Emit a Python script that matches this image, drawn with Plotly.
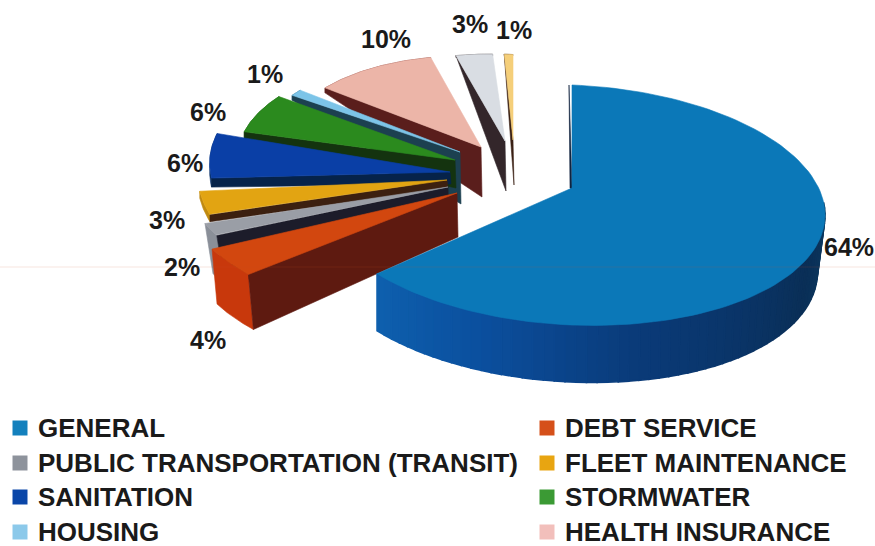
import math
import plotly.graph_objects as go

# Budget shares, clockwise from twelve o'clock
shares = [64, 4, 2, 3, 6, 6, 1, 10, 3, 1]
share_labels = ["64%", "4%", "2%", "3%", "6%", "6%", "1%", "10%", "3%", "1%"]
legend_left = ["GENERAL", "PUBLIC TRANSPORTATION (TRANSIT)", "SANITATION", "HOUSING"]
legend_right = ["DEBT SERVICE", "FLEET MAINTENANCE", "STORMWATER", "HEALTH INSURANCE"]

# Face colours per slice
top_colors = ["#0b78b8", "#d2470f", "#9a9ea6", "#e2a412", "#0a3fa6",
              "#2b8a1e", "#7cc4e8", "#ecb5a8", "#d9dde3", "#f5cf7a"]
radial_colors = ["#10243f", "#5e1a10", "#1c1c2a", "#3c2010", "#06234a",
                 "#14330f", "#1c4050", "#5a1e1c", "#33262a", "#3a2014"]
rim_colors = ["#0b4f9e", "#c8380c", "#8a8f98", "#c08a10", "#08306a",
              "#1a5a14", "#2a6a8a", "#7a2a24", "#33262a", "#3a2014"]
legend_left_colors = ["#1380bd", "#8e939c", "#0a46a8", "#8cc9ea"]
legend_right_colors = ["#d5501a", "#e8a511", "#3b9a34", "#f2bfbb"]

# Exploded layout of each slice: apex, rim scale, rim shift, depth at apex and rim
apex_x = [572, 457, 448, 447, 450, 455, 460, 481, 505, 513]
apex_y = [188, 193, 187, 180, 172, 160, 152, 147, 141, 140]
scale_x = [1, 1.07, 1.01, 0.985, 0.95, 0.86, 0.82, 0.8, 0.78, 0.55]
scale_y = [1, 0.95, 0.82, 1.05, 1.0, 0.9, 0.92, 0.88, 0.84, 0.83]
shift_y = [0, 0, 0, -12, -16, -8, 0, 0, 0, 0]
lower_shift_x = [0, 5, 8, 0, 0, 0, 0, 0, 0, 0]
depth_apex = [6, 44, 40, 8, 12, 28, 52, 50, 50, 45]
depth_rim = [57, 55, 50, 7, 9, 9, 5, 5, 2, 1]

label_x = [849, 208, 182, 167, 185, 208, 265, 386, 470, 514]
label_y = [247, 340, 267, 220, 163, 112, 74, 39, 24, 30]

RADIUS_X, RADIUS_Y, TILT, RIM_DROP = 253, 120, 10, 17


def rim_point(i, deg):
    t = math.radians(deg)
    x = apex_x[i] + scale_x[i] * RADIUS_X * math.sin(t)
    y = apex_y[i] + shift_y[i] + scale_y[i] * (
        -RADIUS_Y * math.cos(t) + TILT * math.sin(t) + RIM_DROP)
    return x, y


def arc(i, a, b, n=40):
    return [rim_point(i, a + (b - a) * k / n) for k in range(n + 1)]


def lower_edge(i, pts):
    # The underside pulls in a little on the right-hand part of the big slice
    out = []
    for x, y in pts:
        squeeze = 1 - 0.03 * max((x - apex_x[i]) / RADIUS_X, 0)
        out.append((apex_x[i] + (x - apex_x[i]) * squeeze + lower_shift_x[i],
                    y + depth_rim[i]))
    return out


def polygon(fig, pts, color, edge=0.6):
    xs = [p[0] for p in pts] + [pts[0][0]]
    ys = [p[1] for p in pts] + [pts[0][1]]
    fig.add_trace(go.Scatter(x=xs, y=ys, mode="lines", fill="toself",
                             fillcolor=color, line=dict(color=color, width=edge),
                             hoverinfo="skip", showlegend=False))


def mix(c1, c2, f):
    a = [int(c1[j:j + 2], 16) for j in (1, 3, 5)]
    b = [int(c2[j:j + 2], 16) for j in (1, 3, 5)]
    return "#" + "".join(f"{round(p + (q - p) * f):02x}" for p, q in zip(a, b))


total = sum(shares)
starts, ends, run = [], [], 0.0
for s in shares:
    starts.append(run)
    run += s * 360 / total
    ends.append(run)

fig = go.Figure()

# Slices are painted far to near, so the big slice goes last
for i in list(range(len(shares) - 1, 0, -1)):
    rim = arc(i, starts[i], ends[i])
    polygon(fig, rim + lower_edge(i, rim)[::-1], rim_colors[i])
    first = rim[0]
    ax, ay = apex_x[i], apex_y[i]
    polygon(fig, [first, (ax, ay), (ax + 1, ay + depth_apex[i]),
                  (first[0] + lower_shift_x[i], first[1] + depth_rim[i])], radial_colors[i])
    polygon(fig, [(ax, ay)] + rim, top_colors[i])

# Big slice: start edge, shaded outer wall, then the top face
ramp = [(0.0, "#0c3a60"), (0.2, "#0a2f57"), (0.55, "#0a3a78"), (0.8, "#0b4f9e"), (1.0, "#0e60ae")]
wall_start, wall_end = 84, ends[0]
strips = 60
for k in range(strips):
    f0, f1 = k / strips, (k + 1) / strips
    seg = arc(0, wall_start + (wall_end - wall_start) * f0,
              wall_start + (wall_end - wall_start) * f1, 3)
    mid = (f0 + f1) / 2
    for (p0, c0), (p1, c1) in zip(ramp, ramp[1:]):
        if p0 <= mid <= p1:
            color = mix(c0, c1, (mid - p0) / (p1 - p0))
            break
    polygon(fig, seg + lower_edge(0, seg)[::-1], color, edge=1.6)

rim0 = arc(0, starts[0], ends[0], 120)
polygon(fig, [(rim0[0][0] - 3, rim0[0][1]), (apex_x[0] - 2, apex_y[0]),
              (apex_x[0] + 3, apex_y[0] + depth_apex[0] - 2), (apex_x[0], apex_y[0] - 2)],
        radial_colors[0])
polygon(fig, [(apex_x[0], apex_y[0])] + rim0, top_colors[0])

# Legend swatches
rows_y = [428, 463, 497, 532]
for col_x, colors in ((20, legend_left_colors), (547, legend_right_colors)):
    fig.add_trace(go.Scatter(x=[col_x] * 4, y=rows_y, mode="markers",
                             marker=dict(symbol="square", size=15, color=colors),
                             hoverinfo="skip", showlegend=False))

LABEL_FONT = dict(family="'Liberation Sans', sans-serif", size=25, color="#1a1a1a")
LEGEND_FONT = dict(family="'Liberation Sans', sans-serif", size=26, color="#1a1a1a")
notes = []
for text, x, y in zip(share_labels, label_x, label_y):
    notes.append(dict(x=x, y=y, text=f"<b>{text}</b>", showarrow=False,
                      xanchor="center", yanchor="middle", font=LABEL_FONT))
for names, col_x in ((legend_left, 36), (legend_right, 563)):
    for name, y in zip(names, rows_y):
        notes.append(dict(x=col_x, y=y, text=f"<b>{name}</b>", showarrow=False,
                          xanchor="left", yanchor="middle", font=LEGEND_FONT))

fig.update_layout(
    width=875, height=546, margin=dict(l=0, r=0, t=0, b=0),
    paper_bgcolor="white", plot_bgcolor="white",
    xaxis=dict(range=[0, 875], visible=False, fixedrange=True),
    yaxis=dict(range=[546, 0], visible=False, fixedrange=True),
    annotations=notes,
    shapes=[dict(type="line", xref="x", yref="y", x0=0, x1=875, y0=267, y1=267,
                 line=dict(color="rgba(200,90,50,0.10)", width=1.5))],
)

fig.write_html("out.html")
